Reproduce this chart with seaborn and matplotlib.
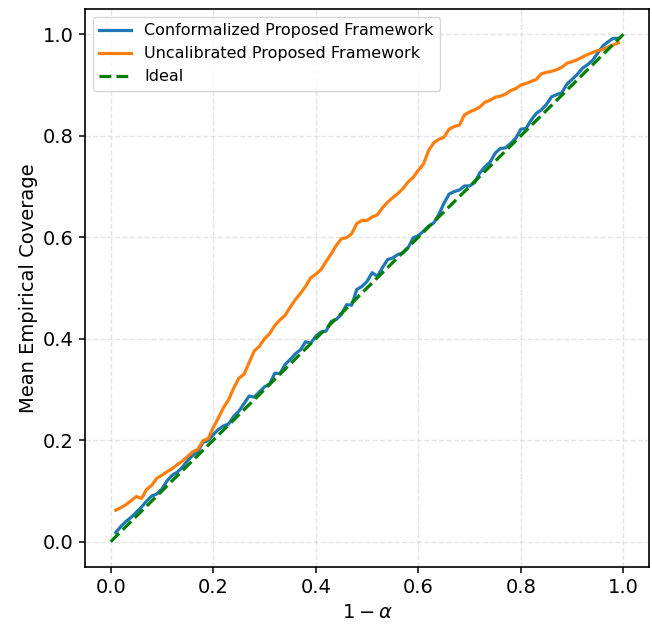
import numpy as np
import pandas as pd
import matplotlib
matplotlib.use("Agg")
import matplotlib.pyplot as plt
import seaborn as sns

# nominal coverage levels 1 - alpha
coverage_levels = [round(0.01 * i, 2) for i in range(1, 100)]

conformal_coverage = [
    0.018, 0.030, 0.040, 0.048, 0.058, 0.068, 0.080, 0.090, 0.094, 0.104,
    0.120, 0.131, 0.137, 0.147, 0.160, 0.170, 0.177, 0.196, 0.199, 0.211,
    0.221, 0.228, 0.232, 0.247, 0.257, 0.272, 0.287, 0.285, 0.295, 0.305,
    0.311, 0.332, 0.331, 0.349, 0.359, 0.370, 0.378, 0.394, 0.391, 0.405,
    0.413, 0.415, 0.434, 0.438, 0.448, 0.467, 0.466, 0.497, 0.503, 0.513,
    0.530, 0.523, 0.540, 0.556, 0.559, 0.566, 0.569, 0.579, 0.599, 0.603,
    0.612, 0.622, 0.628, 0.645, 0.667, 0.685, 0.690, 0.693, 0.701, 0.701,
    0.708, 0.727, 0.739, 0.748, 0.766, 0.775, 0.776, 0.785, 0.795, 0.813,
    0.814, 0.831, 0.844, 0.851, 0.862, 0.877, 0.881, 0.885, 0.902, 0.911,
    0.921, 0.933, 0.940, 0.949, 0.963, 0.977, 0.985, 0.992, 0.992,
]

uncalibrated_coverage = [
    0.062, 0.067, 0.073, 0.081, 0.089, 0.085, 0.103, 0.111, 0.125, 0.131,
    0.138, 0.144, 0.152, 0.159, 0.168, 0.177, 0.182, 0.199, 0.203, 0.225,
    0.244, 0.264, 0.280, 0.303, 0.322, 0.330, 0.353, 0.376, 0.385, 0.400,
    0.410, 0.426, 0.437, 0.446, 0.462, 0.477, 0.489, 0.503, 0.520, 0.527,
    0.536, 0.552, 0.567, 0.584, 0.597, 0.599, 0.607, 0.627, 0.633, 0.633,
    0.640, 0.644, 0.658, 0.669, 0.678, 0.686, 0.696, 0.709, 0.718, 0.732,
    0.744, 0.771, 0.786, 0.793, 0.797, 0.813, 0.818, 0.821, 0.841, 0.847,
    0.851, 0.857, 0.866, 0.870, 0.876, 0.878, 0.882, 0.889, 0.893, 0.900,
    0.903, 0.907, 0.911, 0.922, 0.925, 0.927, 0.930, 0.935, 0.943, 0.946,
    0.950, 0.955, 0.960, 0.964, 0.968, 0.970, 0.975, 0.979, 0.983,
]

ideal_x = [0.0, 1.0]
ideal_y = [0.0, 1.0]

series_labels = ["Conformalized Proposed Framework", "Uncalibrated Proposed Framework", "Ideal"]
tick_values = [0.0, 0.2, 0.4, 0.6, 0.8, 1.0]

plt.rcParams['font.family'] = ['DejaVu Sans']

fig = plt.figure(figsize=(6.52, 6.25), dpi=100)
ax = fig.add_axes([0.1305, 0.0928, 0.865, 0.893])

sns.lineplot(x=coverage_levels, y=conformal_coverage, ax=ax, color="#1f77b4",
             linewidth=2.3, label=series_labels[0])
sns.lineplot(x=coverage_levels, y=uncalibrated_coverage, ax=ax, color="#ff7f0e",
             linewidth=2.3, label=series_labels[1])
sns.lineplot(x=ideal_x, y=ideal_y, ax=ax, color="green", linewidth=2.3,
             linestyle="--", label=series_labels[2])

ax.set_xlim(-0.05, 1.05)
ax.set_ylim(-0.05, 1.05)
ax.set_xticks(tick_values)
ax.set_yticks(tick_values)
ax.tick_params(labelsize=14, width=1.1, length=4.5)
ax.set_xlabel(r"$1 - \alpha$", fontsize=14)
ax.set_ylabel("Mean Empirical Coverage", fontsize=14)
ax.grid(True, linestyle="--", color="#d9d9d9", alpha=0.7, linewidth=1.0)
ax.set_axisbelow(True)
for sp in ax.spines.values():
    sp.set_linewidth(1.2)
ax.legend(loc="upper left", fontsize=11.5)

fig.savefig("out.png", dpi=100)
